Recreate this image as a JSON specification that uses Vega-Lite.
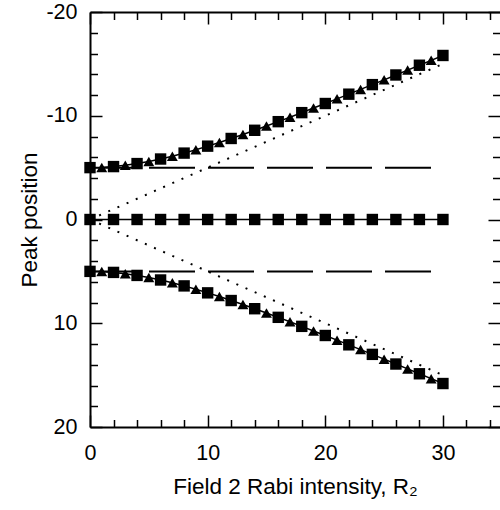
{
  "$schema": "https://vega.github.io/schema/vega-lite/v6.json",
  "width": 410,
  "height": 415,
  "autosize": {"type": "none"},
  "padding": {"left": 90, "top": 12, "right": 0, "bottom": 83},
  "background": "white",
  "config": {
    "view": {"stroke": null},
    "font": "Liberation Sans",
    "axis": {"grid": false, "domainColor": "black", "tickColor": "black", "labelColor": "black", "titleColor": "black", "domainWidth": 2, "tickWidth": 1.5, "labelFont": "Liberation Sans", "titleFont": "Liberation Sans", "titleFontWeight": "normal", "labelFlush": false, "labelOverlap": false}
  },
  "datasets": {
    "curves": [
      {"x": 0, "y": -5, "b": "up", "m": "sq"},
      {"x": 1, "y": -5.02, "b": "up", "m": "tri"},
      {"x": 2, "y": -5.1, "b": "up", "m": "sq"},
      {"x": 3, "y": -5.22, "b": "up", "m": "tri"},
      {"x": 4, "y": -5.39, "b": "up", "m": "sq"},
      {"x": 5, "y": -5.59, "b": "up", "m": "tri"},
      {"x": 6, "y": -5.83, "b": "up", "m": "sq"},
      {"x": 7, "y": -6.1, "b": "up", "m": "tri"},
      {"x": 8, "y": -6.4, "b": "up", "m": "sq"},
      {"x": 9, "y": -6.73, "b": "up", "m": "tri"},
      {"x": 10, "y": -7.07, "b": "up", "m": "sq"},
      {"x": 11, "y": -7.43, "b": "up", "m": "tri"},
      {"x": 12, "y": -7.81, "b": "up", "m": "sq"},
      {"x": 13, "y": -8.2, "b": "up", "m": "tri"},
      {"x": 14, "y": -8.6, "b": "up", "m": "sq"},
      {"x": 15, "y": -9.01, "b": "up", "m": "tri"},
      {"x": 16, "y": -9.43, "b": "up", "m": "sq"},
      {"x": 17, "y": -9.86, "b": "up", "m": "tri"},
      {"x": 18, "y": -10.3, "b": "up", "m": "sq"},
      {"x": 19, "y": -10.74, "b": "up", "m": "tri"},
      {"x": 20, "y": -11.18, "b": "up", "m": "sq"},
      {"x": 21, "y": -11.63, "b": "up", "m": "tri"},
      {"x": 22, "y": -12.08, "b": "up", "m": "sq"},
      {"x": 23, "y": -12.54, "b": "up", "m": "tri"},
      {"x": 24, "y": -13, "b": "up", "m": "sq"},
      {"x": 25, "y": -13.46, "b": "up", "m": "tri"},
      {"x": 26, "y": -13.93, "b": "up", "m": "sq"},
      {"x": 27, "y": -14.4, "b": "up", "m": "tri"},
      {"x": 28, "y": -14.87, "b": "up", "m": "sq"},
      {"x": 29, "y": -15.34, "b": "up", "m": "tri"},
      {"x": 30, "y": -15.81, "b": "up", "m": "sq"},
      {"x": 0, "y": 5, "b": "low", "m": "sq"},
      {"x": 1, "y": 5.02, "b": "low", "m": "tri"},
      {"x": 2, "y": 5.1, "b": "low", "m": "sq"},
      {"x": 3, "y": 5.22, "b": "low", "m": "tri"},
      {"x": 4, "y": 5.39, "b": "low", "m": "sq"},
      {"x": 5, "y": 5.59, "b": "low", "m": "tri"},
      {"x": 6, "y": 5.83, "b": "low", "m": "sq"},
      {"x": 7, "y": 6.1, "b": "low", "m": "tri"},
      {"x": 8, "y": 6.4, "b": "low", "m": "sq"},
      {"x": 9, "y": 6.73, "b": "low", "m": "tri"},
      {"x": 10, "y": 7.07, "b": "low", "m": "sq"},
      {"x": 11, "y": 7.43, "b": "low", "m": "tri"},
      {"x": 12, "y": 7.81, "b": "low", "m": "sq"},
      {"x": 13, "y": 8.2, "b": "low", "m": "tri"},
      {"x": 14, "y": 8.6, "b": "low", "m": "sq"},
      {"x": 15, "y": 9.01, "b": "low", "m": "tri"},
      {"x": 16, "y": 9.43, "b": "low", "m": "sq"},
      {"x": 17, "y": 9.86, "b": "low", "m": "tri"},
      {"x": 18, "y": 10.3, "b": "low", "m": "sq"},
      {"x": 19, "y": 10.74, "b": "low", "m": "tri"},
      {"x": 20, "y": 11.18, "b": "low", "m": "sq"},
      {"x": 21, "y": 11.63, "b": "low", "m": "tri"},
      {"x": 22, "y": 12.08, "b": "low", "m": "sq"},
      {"x": 23, "y": 12.54, "b": "low", "m": "tri"},
      {"x": 24, "y": 13, "b": "low", "m": "sq"},
      {"x": 25, "y": 13.46, "b": "low", "m": "tri"},
      {"x": 26, "y": 13.93, "b": "low", "m": "sq"},
      {"x": 27, "y": 14.4, "b": "low", "m": "tri"},
      {"x": 28, "y": 14.87, "b": "low", "m": "sq"},
      {"x": 29, "y": 15.34, "b": "low", "m": "tri"},
      {"x": 30, "y": 15.81, "b": "low", "m": "sq"},
      {"x": 0, "y": 0, "b": "mid", "m": "sq"},
      {"x": 2, "y": 0, "b": "mid", "m": "sq"},
      {"x": 4, "y": 0, "b": "mid", "m": "sq"},
      {"x": 6, "y": 0, "b": "mid", "m": "sq"},
      {"x": 8, "y": 0, "b": "mid", "m": "sq"},
      {"x": 10, "y": 0, "b": "mid", "m": "sq"},
      {"x": 12, "y": 0, "b": "mid", "m": "sq"},
      {"x": 14, "y": 0, "b": "mid", "m": "sq"},
      {"x": 16, "y": 0, "b": "mid", "m": "sq"},
      {"x": 18, "y": 0, "b": "mid", "m": "sq"},
      {"x": 20, "y": 0, "b": "mid", "m": "sq"},
      {"x": 22, "y": 0, "b": "mid", "m": "sq"},
      {"x": 24, "y": 0, "b": "mid", "m": "sq"},
      {"x": 26, "y": 0, "b": "mid", "m": "sq"},
      {"x": 28, "y": 0, "b": "mid", "m": "sq"},
      {"x": 30, "y": 0, "b": "mid", "m": "sq"}
    ],
    "guides": [
      {"x": 0, "y": 0, "g": "dotU"},
      {"x": 30, "y": -15, "g": "dotU"},
      {"x": 0, "y": 0, "g": "dotL"},
      {"x": 30, "y": 15, "g": "dotL"},
      {"x": 0, "y": -5, "g": "dashU"},
      {"x": 30, "y": -5, "g": "dashU"},
      {"x": 0, "y": 5, "g": "dashL"},
      {"x": 30, "y": 5, "g": "dashL"}
    ]
  },
  "resolve": {"axis": {"x": "independent", "y": "independent"}},
  "layer": [
    {
      "data": {"name": "guides"},
      "transform": [{"filter": "datum.g === 'dotU' || datum.g === 'dotL'"}],
      "mark": {"type": "line", "color": "black", "strokeWidth": 2, "strokeDash": [2, 8]},
      "encoding": {
        "x": {"field": "x", "type": "quantitative", "scale": {"domain": [0, 34.85], "nice": false, "zero": false},
          "axis": {"orient": "bottom", "values": [0, 10, 20, 30], "labelExpr": "'' + datum.value", "ticks": true, "tickSize": -12, "domain": true, "labelFontSize": 21.5, "labelPadding": 27, "title": "Field 2 Rabi intensity, R₂", "titleFontSize": 22.5, "titlePadding": 12}},
        "y": {"field": "y", "type": "quantitative", "scale": {"domain": [-20, 20], "reverse": true, "nice": false, "zero": false},
          "axis": {"orient": "left", "values": [-20, -10, 0, 10, 20], "labelExpr": "'' + datum.value", "ticks": true, "tickSize": -12, "domain": true, "labelFontSize": 21.5, "labelPadding": 25, "title": "Peak position", "titleFontSize": 22.5, "titlePadding": 4}},
        "detail": {"field": "g"}
      }
    },
    {
      "data": {"name": "guides"},
      "transform": [{"filter": "datum.g === 'dashU' || datum.g === 'dashL'"}],
      "mark": {"type": "line", "color": "black", "strokeWidth": 2, "strokeDash": [46, 13]},
      "encoding": {
        "x": {"field": "x", "type": "quantitative", "scale": {"domain": [0, 34.85], "nice": false, "zero": false},
          "axis": {"orient": "bottom", "values": [2, 4, 6, 8, 12, 14, 16, 18, 22, 24, 26, 28, 32, 34], "labels": false, "domain": false, "title": null, "tickSize": -7.5}},
        "y": {"field": "y", "type": "quantitative", "scale": {"domain": [-20, 20], "reverse": true, "nice": false, "zero": false},
          "axis": {"orient": "left", "values": [-18, -16, -14, -12, -8, -6, -4, -2, 2, 4, 6, 8, 12, 14, 16, 18], "labels": false, "domain": false, "title": null, "tickSize": -7.5}},
        "detail": {"field": "g"}
      }
    },
    {
      "data": {"name": "curves"},
      "mark": {"type": "line", "color": "black", "strokeWidth": 1.5},
      "encoding": {
        "x": {"field": "x", "type": "quantitative", "scale": {"domain": [0, 34.85], "nice": false, "zero": false},
          "axis": {"orient": "top", "values": [0, 10, 20, 30], "labels": false, "domain": true, "title": null, "tickSize": -12}},
        "y": {"field": "y", "type": "quantitative", "scale": {"domain": [-20, 20], "reverse": true, "nice": false, "zero": false},
          "axis": {"orient": "right", "values": [-20, -10, 0, 10, 20], "labels": false, "domain": false, "title": null, "tickSize": -12}},
        "detail": {"field": "b"}
      }
    },
    {
      "data": {"name": "curves"},
      "mark": {"type": "point", "filled": true, "color": "black", "opacity": 1},
      "encoding": {
        "x": {"field": "x", "type": "quantitative", "scale": {"domain": [0, 34.85], "nice": false, "zero": false},
          "axis": {"orient": "top", "values": [2, 4, 6, 8, 12, 14, 16, 18, 22, 24, 26, 28, 32, 34], "labels": false, "domain": false, "title": null, "tickSize": -7.5}},
        "y": {"field": "y", "type": "quantitative", "scale": {"domain": [-20, 20], "reverse": true, "nice": false, "zero": false},
          "axis": {"orient": "right", "values": [-18, -16, -14, -12, -8, -6, -4, -2, 2, 4, 6, 8, 12, 14, 16, 18], "labels": false, "domain": false, "title": null, "tickSize": -7.5}},
        "shape": {"field": "m", "type": "nominal", "scale": {"domain": ["sq", "tri"], "range": ["square", "triangle-up"]}, "legend": null},
        "size": {"field": "m", "type": "nominal", "scale": {"domain": ["sq", "tri"], "range": [130, 120]}, "legend": null}
      }
    }
  ]
}
